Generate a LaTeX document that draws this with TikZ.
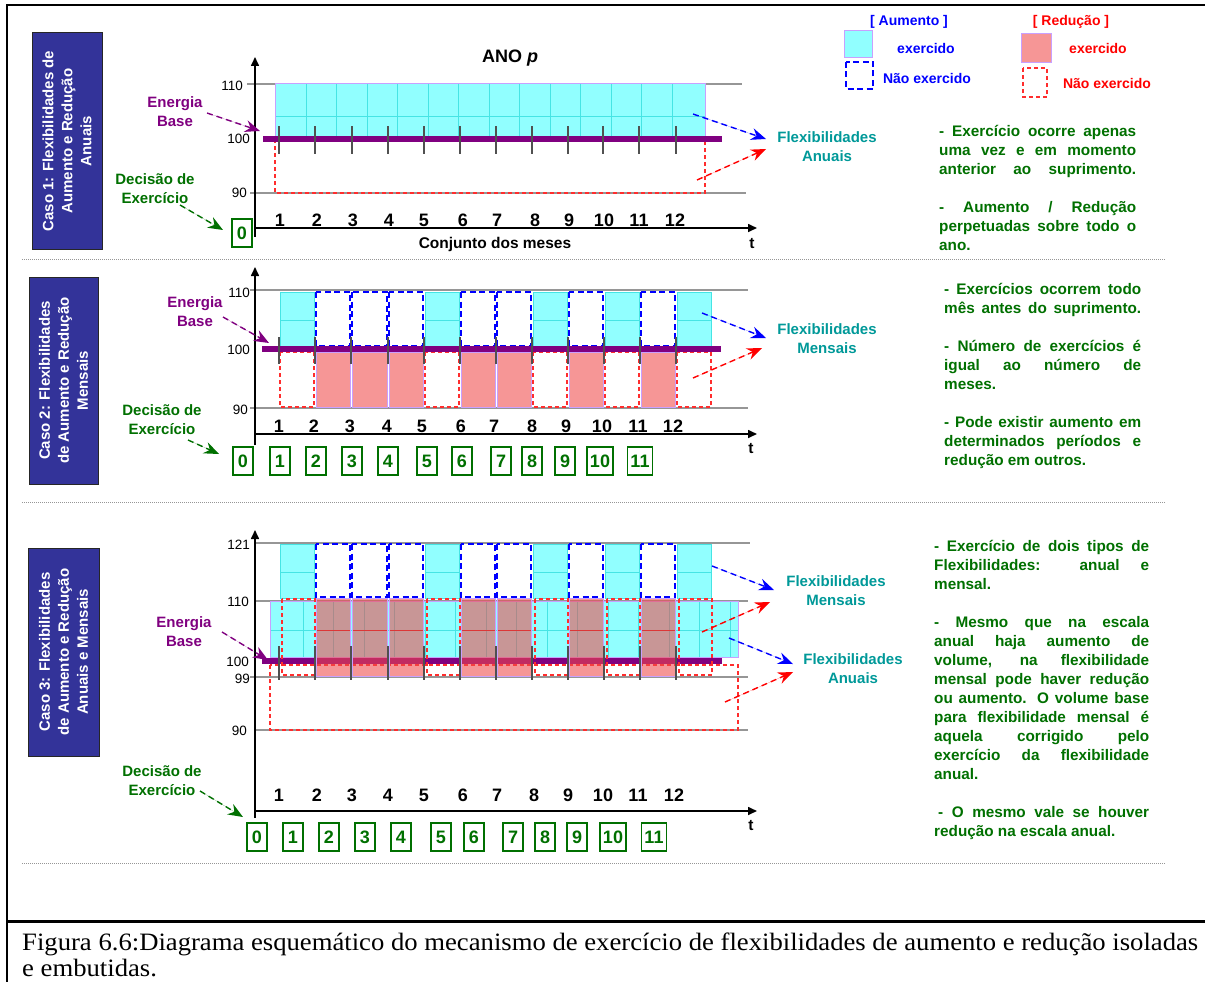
\documentclass[tikz,border=0pt]{standalone}
\usepackage{fontspec}
\setmainfont{Liberation Sans}
\newfontfamily\capfont{Liberation Serif}
\usetikzlibrary{arrows.meta}
\definecolor{cbox}{RGB}{51,51,153}
\definecolor{purp}{RGB}{128,0,128}
\definecolor{dgreen}{RGB}{0,112,0}
\definecolor{tealx}{RGB}{0,153,153}
\definecolor{cyanf}{RGB}{145,255,255}
\definecolor{cyanl}{RGB}{70,228,228}
\definecolor{redf}{RGB}{240,75,75}
\definecolor{lav}{RGB}{200,160,255}
\definecolor{gridg}{RGB}{150,150,150}
\definecolor{tickg}{RGB}{80,80,80}
\definecolor{redd}{RGB}{255,45,45}
\newcommand{\fsz}[2]{\fontsize{#1}{#2}\selectfont}
\newcommand{\jl}[2]{\makebox[#1][s]{#2}}
\tikzset{
  casebox/.style={rotate=90, fill=cbox, draw=black!85, line width=1pt, text=white,
     font=\bfseries\fsz{15}{19}, align=center, inner sep=0pt},
  gline/.style={draw=gridg, line width=1.1pt},
  axisline/.style={line width=1.6pt, -{Triangle[length=9pt,width=8pt]}},
  upno/.style={draw=blue, line width=1.5pt, dash pattern=on 6pt off 3.5pt},
  dnex/.style={fill=redf, fill opacity=0.58},
  dnno/.style={draw=redd, line width=1.2pt, dash pattern=on 4pt off 3pt},
  lavb/.style={draw=lav, line width=1pt},
  cgrid/.style={draw=cyanl, line width=0.5pt},
  basebar/.style={draw=purp, line width=6pt},
  mtick/.style={draw=tickg, line width=1.3pt},
  vlab/.style={font=\fsz{13.5}{14}, anchor=east, inner sep=0pt},
  mlab/.style={font=\bfseries\fsz{18}{18}, inner sep=0pt},
  dbox/.style={draw=dgreen, line width=1.2pt, text=dgreen, font=\bfseries\fsz{18}{18},
     minimum height=28pt, minimum width=20pt, inner xsep=3pt, inner ysep=0pt},
  enlab/.style={text=purp, font=\bfseries\fsz{15}{19}, align=center, inner sep=0pt},
  declab/.style={text=dgreen, font=\bfseries\fsz{15}{19}, align=center, inner sep=0pt},
  flexlab/.style={text=tealx, font=\bfseries\fsz{15}{19}, align=center, inner sep=0pt},
  note/.style={text=dgreen, font=\bfseries\fsz{15.3}{19}, align=left, anchor=north west, inner sep=0pt},
  darr/.style={line width=1.4pt, dash pattern=on 6pt off 4pt, -{Stealth[length=15pt,width=12pt,inset=5pt]}},
  barr/.style={darr, draw=blue, fill=blue},
  rarr/.style={darr, draw=red, fill=red},
  parr/.style={darr, draw=purp, fill=purp},
  garr/.style={darr, draw=dgreen, fill=dgreen},
  sepline/.style={draw=gridg, line width=0.8pt, dash pattern=on 1pt off 1pt},
  leg/.style={font=\bfseries\fsz{14}{14}, inner sep=0pt},
}
\begin{document}
\begin{tikzpicture}[x=1pt,y=-1pt]
\useasboundingbox (0,0) rectangle (1205,982);
\fill[white] (0,0) rectangle (1205,982);
% frame
\draw[line width=2.5pt] (7,982) -- (7,5) -- (1205,5);
\draw[line width=3pt] (7,921) -- (1205,921);
\draw[sepline] (22,259) -- (1165,259);
\draw[sepline] (22,502) -- (1165,502);
\draw[sepline] (22,863) -- (1165,863);

% ================= legend
\node[leg, text=blue] (lgA) at (909,22) {[ Aumento ]};
\fill[cyanf] (844,31) rectangle (872,58);
\draw[lavb] (844,31) rectangle (872,58);
\node[leg, text=blue] (lgAe) at (926,48) {exercido};
\draw[upno] (846,62) rectangle (873,89);
\node[leg, text=blue] (lgAn) at (927,78) {Não exercido};
\node[leg, text=red] (lgR) at (1071,22) {[ Redução ]};
\fill[dnex] (1021,34) rectangle (1051,63);
\draw[lavb] (1021,34) rectangle (1051,63);
\node[leg, text=red] (lgRe) at (1098,48) {exercido};
\draw[dnno] (1023,68) rectangle (1047,97);
\node[leg, text=red] (lgRn) at (1107,83) {Não exercido};

% ================= CASE 1
\node[casebox, minimum width=216pt, minimum height=70pt] (cb1) at (67,141)
  {Caso 1: Flexibilidades de\\Aumento e Redução\\Anuais};
\node[font=\bfseries\fsz{18}{18}, inner sep=0pt] (ano) at (510,58) {ANO \textit{p}};
\draw[gline] (247,84) -- (742,84);
\draw[gline] (250,193) -- (746,193);
\node[vlab] (c1v110) at (243,86) {110};
\node[vlab] (c1v100) at (250,139) {100};
\node[vlab] (c1v90) at (247,193) {90};
\draw[dnno] (275,139) rectangle (705,193);
\fill[cyanf] (275,84) rectangle (705,139);
\foreach \x in {306,336.5,...,700} \draw[cgrid] (\x,84) -- (\x,139);
\draw[cgrid] (275,116) -- (705,116);
\draw[lavb] (275,84) rectangle (705,139);
\draw[basebar] (263,139) -- (722,139);
\foreach \x in {279,315,352,388,424,460,496,532,568,603,639,676}
  \draw[mtick] (\x,126) -- (\x,154);
\draw[axisline] (255,237) -- (255,57);
\draw[axisline] (255,228) -- (757,228);
\foreach \x [count=\i] in {280,317,353,389,424,463,497,535,569,604,639,675}
  \node[mlab] (c1m\i) at (\x,220) {\i};
\node[font=\bfseries\fsz{15.5}{16}, inner sep=0pt] (conj) at (495,244) {Conjunto dos meses};
\node[font=\bfseries\fsz{15.5}{16}, inner sep=0pt] (t1) at (752,244) {t};
\node[enlab] (en1) at (175,112) {Energia\\Base};
\node[declab] (de1) at (155,189) {Decisão de\\Exercício};
\node[dbox] (c1d0) at (242,233) {0};
\coordinate (en1s) at (207,113); \coordinate (en1t) at (260,131);
\draw[parr] (en1s) -- (en1t);
\coordinate (de1s) at (180,205); \coordinate (de1t) at (223,230);
\draw[garr] (de1s) -- (de1t);
\node[flexlab] (fx1) at (827,147) {Flexibilidades\\Anuais};
\coordinate (b1s) at (693,114); \coordinate (b1t) at (766,139);
\draw[barr] (b1s) -- (b1t);
\coordinate (r1s) at (697,180); \coordinate (r1t) at (766,149);
\draw[rarr] (r1s) -- (r1t);
\node[note] (nt1) at (939,124) {%
\rule{0pt}{12pt}\jl{197pt}{- Exercício ocorre apenas}\\
\jl{197pt}{uma vez e em momento}\\
\jl{197pt}{anterior ao suprimento.}\\[19pt]
\jl{197pt}{- Aumento / Redução}\\
\jl{197pt}{perpetuadas sobre todo o}\\
ano.};

% ================= CASE 2
\node[casebox, minimum width=207pt, minimum height=69pt] (cb2) at (63.5,380.5)
  {Caso 2: Flexibilidades\\de Aumento e Redução\\Mensais};
\draw[gline] (250,290) -- (748,290);
\draw[gline] (250,408) -- (748,408);
\node[vlab] (c2v110) at (250,293) {110};
\node[vlab] (c2v100) at (250,350) {100};
\node[vlab] (c2v90) at (248,410) {90};
\foreach \a/\b in {279/315,424/460,532/568,604/640,676/712} {
  \fill[cyanf] (\a+1,292) rectangle (\b-1,347);
  \draw[cgrid] (\a+1,320) -- (\b-1,320);
  \draw[draw=cyanl, line width=0.6pt] (\a+1,292) rectangle (\b-1,347);
  \draw[dnno] (\a+1,352) rectangle (\b-1,407);
}
\foreach \a/\b in {315/351,351/388,388/424,460/496,496/532,568/604,640/676} {
  \draw[upno] (\a+1,292) rectangle (\b-1,346);
  \fill[dnex] (\a+1,352) rectangle (\b-1,407);
  \draw[lavb] (\a+1,352) rectangle (\b-1,407);
}
\draw[basebar] (262,349) -- (721,349);
\foreach \x in {279,315,351,388,424,460,496,532,568,604,640,676}
  \draw[mtick] (\x,337) -- (\x,364);
\draw[axisline] (255,445) -- (255,267);
\draw[axisline] (255,434) -- (757,434);
\foreach \x [count=\i] in {279,314,350,387,422,461,494,532,566,602,638,673}
  \node[mlab] (c2m\i) at (\x,426) {\i};
\node[font=\bfseries\fsz{15.5}{16}, inner sep=0pt] (t2) at (751,449) {t};
\foreach \x [count=\i from 0] in {243,280,316,352,388,427,462,501,532,565,600,640}
  \node[dbox] (c2d\i) at (\x,461) {\i};
\node[enlab] (en2) at (195,312) {Energia\\Base};
\node[declab] (de2) at (162,420) {Decisão de\\Exercício};
\coordinate (en2s) at (223,317); \coordinate (en2t) at (269,343);
\draw[parr] (en2s) -- (en2t);
\coordinate (de2s) at (188,440); \coordinate (de2t) at (219,454);
\draw[garr] (de2s) -- (de2t);
\node[flexlab] (fx2) at (827,339) {Flexibilidades\\Mensais};
\coordinate (b2s) at (702,313); \coordinate (b2t) at (766,338);
\draw[barr] (b2s) -- (b2t);
\coordinate (r2s) at (693,378); \coordinate (r2t) at (762,348);
\draw[rarr] (r2s) -- (r2t);
\node[note] (nt2) at (944,282) {%
\rule{0pt}{12pt}\jl{197pt}{- Exercícios ocorrem todo}\\
\jl{197pt}{mês antes do suprimento.}\\[19pt]
\jl{197pt}{- Número de exercícios é}\\
\jl{197pt}{igual ao número de}\\
meses.\\[19pt]
\jl{197pt}{- Pode existir aumento em}\\
\jl{197pt}{determinados períodos e}\\
redução em outros.};

% ================= CASE 3
\node[casebox, minimum width=208pt, minimum height=71pt] (cb3) at (63.5,652)
  {Caso 3: Flexibilidades\\de Aumento e Redução\\Anuais e Mensais};
\draw[gline] (254,543) -- (750,543);
\draw[gline] (254,601) -- (748,601);
\draw[gline] (250,677) -- (748,677);
\draw[gline] (254,730) -- (748,730);
\node[vlab] (c3v121) at (250,545) {121};
\node[vlab] (c3v110) at (249,602) {110};
\node[vlab] (c3v100) at (249,662) {100};
\node[vlab] (c3v99) at (250,679) {99};
\node[vlab] (c3v90) at (247,731) {90};
\draw[dnno] (270,665) rectangle (738,730);
\fill[cyanf] (270,601) rectangle (738,657);
\foreach \x in {303,333.5,...,735} \draw[cgrid] (\x,601) -- (\x,657);
\draw[cgrid] (270,630) -- (738,630);
\draw[lavb] (270,601) rectangle (738,657);
\draw[basebar] (262,661) -- (722,661);
\foreach \a/\b in {279/315,424/460,532/568,604/640,676/712} {
  \fill[cyanf] (\a+1,544) rectangle (\b-1,598);
  \draw[cgrid] (\a+1,572) -- (\b-1,572);
  \draw[draw=cyanl, line width=0.6pt] (\a+1,544) rectangle (\b-1,598);
  \draw[dnno] (\a+3,599) rectangle (\b,675);
}
\foreach \a/\b in {315/351,351/388,388/424,460/496,496/532,568/604,640/676} {
  \draw[upno] (\a+1,544) rectangle (\b-1,597);
  \fill[dnex] (\a+1,598) rectangle (\b-1,676);
  \draw[draw=red, line width=0.5pt, opacity=0.6] (\a+1,630) -- (\b-1,630);
  \draw[lavb] (\a+1,598) rectangle (\b-1,676);
}
\foreach \x in {279,315,351,388,424,460,496,532,568,604,640,676}
  \draw[mtick] (\x,646) -- (\x,680);
\draw[axisline] (255,818) -- (255,530);
\draw[axisline] (255,811) -- (757,811);
\foreach \x [count=\i] in {279,317,352,388,424,463,497,534,568,603,638,674}
  \node[mlab] (c3m\i) at (\x,795) {\i};
\node[font=\bfseries\fsz{15.5}{16}, inner sep=0pt] (t3) at (751,826) {t};
\foreach \x [count=\i from 0] in {257,293,329,365,401,441,474,513,545,577,613,654}
  \node[dbox] (c3d\i) at (\x,837) {\i};
\node[enlab] (en3) at (184,632) {Energia\\Base};
\node[declab] (de3) at (162,781) {Decisão de\\Exercício};
\coordinate (en3s) at (222,632); \coordinate (en3t) at (268,660);
\draw[parr] (en3s) -- (en3t);
\coordinate (de3s) at (200,791); \coordinate (de3t) at (243,817);
\draw[garr] (de3s) -- (de3t);
\node[flexlab] (fx3m) at (836,591) {Flexibilidades\\Mensais};
\node[flexlab] (fx3a) at (853,668.5) {Flexibilidades\\Anuais};
\coordinate (b3s) at (712,566); \coordinate (b3t) at (774,590);
\draw[barr] (b3s) -- (b3t);
\coordinate (r3s) at (702,632); \coordinate (r3t) at (770,602);
\draw[rarr] (r3s) -- (r3t);
\coordinate (b4s) at (729,638); \coordinate (b4t) at (793,664);
\draw[barr] (b4s) -- (b4t);
\coordinate (r4s) at (725,702); \coordinate (r4t) at (793,672);
\draw[rarr] (r4s) -- (r4t);
\node[note] (nt3) at (934,539) {%
\rule{0pt}{12pt}\jl{215pt}{- Exercício de dois tipos de}\\
\jl{215pt}{Flexibilidades: anual e}\\
mensal.\\[19pt]
\jl{215pt}{- Mesmo que na escala}\\
\jl{215pt}{anual haja aumento de}\\
\jl{215pt}{volume, na flexibilidade}\\
\jl{215pt}{mensal pode haver redução}\\
\jl{215pt}{ou aumento. O volume base}\\
\jl{215pt}{para flexibilidade mensal é}\\
\jl{215pt}{aquela corrigido pelo}\\
\jl{215pt}{exercício da flexibilidade}\\
anual.\\[19pt]
\jl{215pt}{\hspace{4pt}- O mesmo vale se houver}\\
redução na escala anual.};

% ================= caption
\node[anchor=base west, inner sep=0pt, font=\capfont\fsz{25}{26}] (cap) at (22,950)
 {\resizebox{1176pt}{\height}{\begin{tabular}[t]{@{}l@{}}Figura 6.6:Diagrama esquemático do mecanismo de exercício de flexibilidades de aumento e redução isoladas\\e embutidas.\end{tabular}}};
\end{tikzpicture}
\end{document}
